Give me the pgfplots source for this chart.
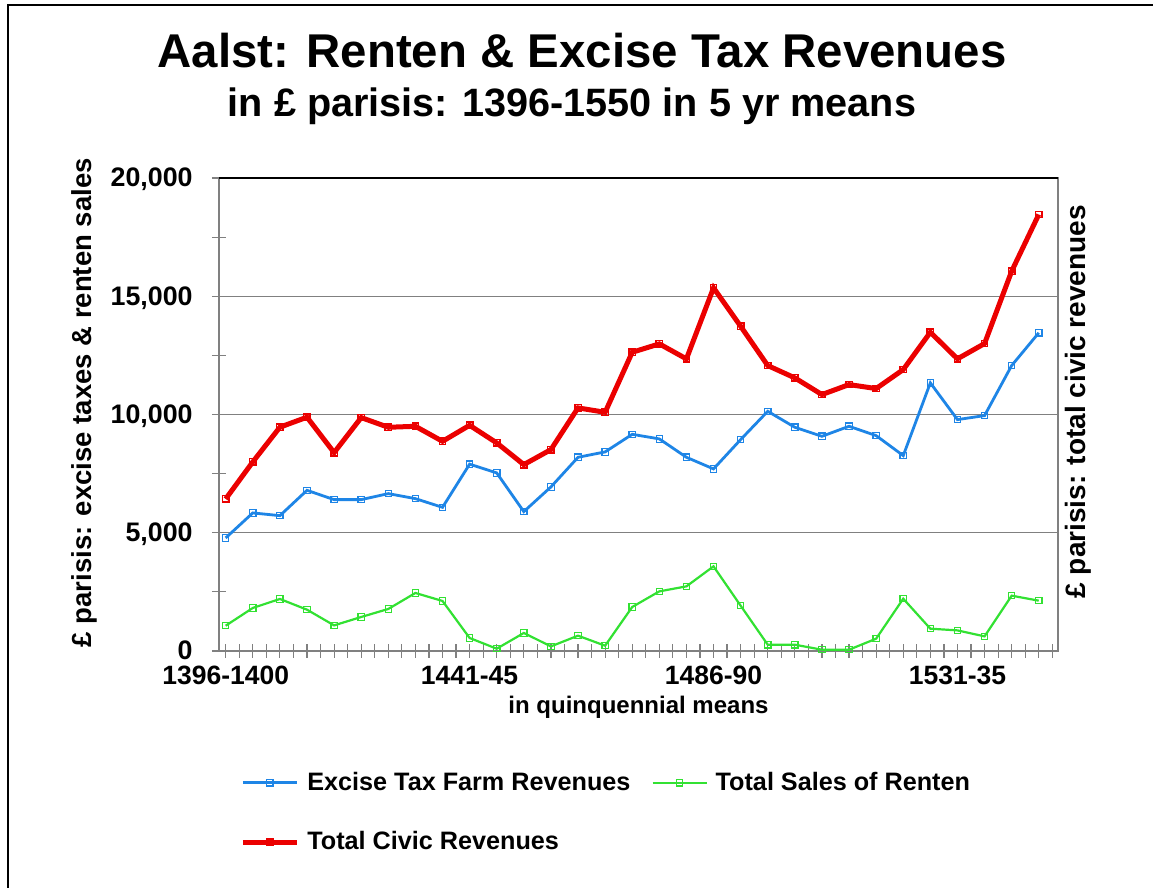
\documentclass[border=0pt]{standalone}
\usepackage{fontspec}
\setmainfont{Liberation Sans}
\usepackage{pgfplots}
\pgfplotsset{compat=1.18}
\definecolor{cblue}{RGB}{30,133,230}
\definecolor{cgreen}{RGB}{50,225,50}
\definecolor{cred}{RGB}{235,0,0}
\definecolor{axgray}{RGB}{128,128,128}

\begin{document}
\begin{tikzpicture}
\useasboundingbox (0,0) rectangle (576.5pt,444pt);
\fill[white] (0,0) rectangle (576.5pt,444pt);
\draw[black, line width=1pt] (4pt,0pt) -- (4pt,441.5pt) -- (576.5pt,441.5pt);
\node[anchor=base, inner sep=0pt, font=\fontsize{23.7}{28}\selectfont\bfseries] at (291pt,410pt) {Aalst: Renten \& Excise Tax Revenues};
\node[anchor=base, inner sep=0pt, font=\fontsize{19.8}{24}\selectfont\bfseries] at (286pt,385.5pt) {in £ parisis: 1396-1550 in 5 yr means};
\begin{axis}[
  at={(109.5pt,118.5pt)}, anchor=south west,
  width=419.5pt, height=236.5pt, scale only axis,
  xmin=-0.247, xmax=30.71, ymin=0, ymax=20000,
  clip=false,
  axis line style={axgray, line width=0.75pt},
  xtick={0,9,18,27},
  xticklabels={1396-1400,1441-45,1486-90,1531-35},
  minor xtick={0,0.5,...,30.5},
  ytick={0,5000,10000,15000,20000},
  minor ytick={2500,7500,12500,17500},
  xtick pos=bottom, ytick pos=left,
  tick align=center,
  major tick length=7pt, minor tick length=7pt,
  tick style={axgray, line width=0.6pt},
  minor tick style={axgray, line width=0.6pt},
  ymajorgrids, grid style={axgray, line width=0.5pt},
  scaled y ticks=false,
  /pgf/number format/.cd, fixed, precision=0, 1000 sep={,}, assume math mode=true,
  /pgfplots/.cd,
  yticklabel style={font=\fontsize{13.4}{14}\selectfont\bfseries, anchor=base east, inner sep=0pt, xshift=-9.5pt, yshift=-4.5pt},
  xticklabel style={font=\fontsize{13.25}{14}\selectfont\bfseries, anchor=base, inner sep=0pt, yshift=-13.3pt},
  xlabel={in quinquennial means},
  xlabel style={at={(axis description cs:0.5,-0.132)}, anchor=base, inner sep=0pt, font=\fontsize{12}{14}\selectfont\bfseries},
  ylabel={£ parisis: excise taxes \& renten sales},
  ylabel style={at={(axis description cs:-0.16,0.525)}, anchor=center, inner sep=0pt, font=\fontsize{13.75}{16}\selectfont\bfseries},
  legend columns=2,
  legend cell align=left,
  legend style={at={(axis description cs:0.025,-0.247)}, anchor=north west, draw=none, fill=none,
    font=\fontsize{12.6}{14}\selectfont\bfseries, row sep=15pt, inner sep=0pt,
    /tikz/every odd column/.append style={column sep=2pt},
    /tikz/every even column/.append style={column sep=8.5pt}},
  legend image code/.code={\draw[mark repeat=2,mark phase=2] plot coordinates {(0pt,0pt) (13.5pt,0pt) (27pt,0pt)};},
]
\addplot[cblue, line width=1.4pt, mark=square, mark size=1.6pt, mark options={solid, line width=0.6pt}] coordinates {
(0,4780) (1,5838) (2,5723) (3,6794) (4,6400) (5,6400) (6,6654) (7,6442) (8,6074) (9,7900)
(10,7530) (11,5893) (12,6937) (13,8190) (14,8418) (15,9162) (16,8968) (17,8190) (18,7699) (19,8938)
(20,10135) (21,9459) (22,9078) (23,9501) (24,9107) (25,8261) (26,11337) (27,9784) (28,9953) (29,12069) (30,13452)
};
\addlegendentry{Excise Tax Farm Revenues}
\addplot[cgreen, line width=1.1pt, mark=square, mark size=1.6pt, mark options={solid, line width=0.6pt}] coordinates {
(0,1070) (1,1819) (2,2200) (3,1747) (4,1083) (5,1438) (6,1777) (7,2453) (8,2115) (9,550)
(10,97) (11,761) (12,195) (13,647) (14,224) (15,1861) (16,2521) (17,2733) (18,3579) (19,1916)
(20,266) (21,266) (22,55) (23,55) (24,520) (25,2212) (26,943) (27,871) (28,618) (29,2339) (30,2128)
};
\addlegendentry{Total Sales of Renten}
\addplot[cred, line width=2.5pt, mark=square, mark size=1.6pt, mark options={solid, line width=0.7pt}] coordinates {
(0,6430) (1,7995) (2,9463) (3,9886) (4,8388) (5,9869) (6,9459) (7,9501) (8,8866) (9,9543)
(10,8799) (11,7881) (12,8515) (13,10279) (14,10093) (15,12631) (16,12986) (17,12352) (18,15355) (19,13731)
(20,12069) (21,11548) (22,10842) (23,11265) (24,11096) (25,11899) (26,13477) (27,12352) (28,12999) (29,16058) (30,18456)
};
\addlegendentry{Total Civic Revenues}
\draw[black, line width=0.75pt] (axis description cs:0,1) -- (axis description cs:1,1);
\node[rotate=90, anchor=center, inner sep=0pt, font=\fontsize{14}{16}\selectfont\bfseries] at (axis description cs:1.024,0.527) {£ parisis: total civic revenues};
\end{axis}
\end{tikzpicture}
\end{document}
